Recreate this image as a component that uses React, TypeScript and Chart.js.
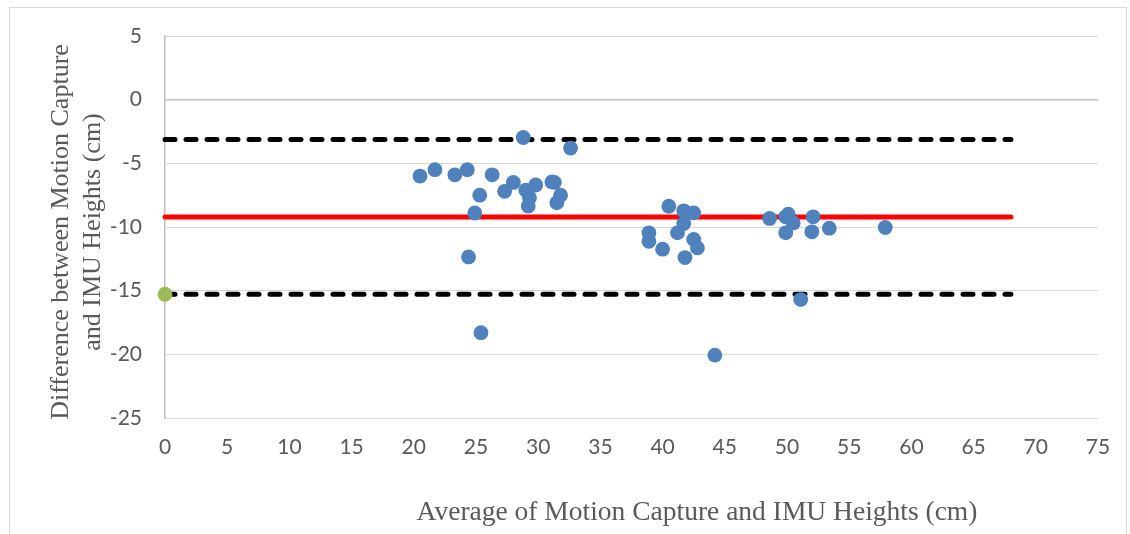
import React, { useEffect, useRef } from 'react';
import { Chart, registerables } from 'chart.js';

Chart.register(...registerables);

// Bland-Altman data: average (x) and difference (y)
const avgHeights = [
  20.5, 21.7, 23.3, 24.3, 26.3, 28.0, 27.3, 25.3, 24.9, 24.4, 25.4,
  28.8, 32.6, 29.0, 29.8, 29.3, 29.2, 31.1, 31.3, 31.8, 31.5,
  40.5, 41.7, 42.5, 41.7, 41.2, 38.9, 38.9, 40.0, 42.5, 42.8, 41.8, 44.2,
  48.6, 50.1, 49.9, 50.5, 49.9, 52.1, 52.0, 53.4, 57.9, 51.1,
];
const diffHeights = [
  -6.0, -5.5, -5.9, -5.5, -5.9, -6.5, -7.2, -7.5, -8.9, -12.35, -18.3,
  -2.97, -3.8, -7.1, -6.7, -7.7, -8.35, -6.46, -6.5, -7.5, -8.1,
  -8.37, -8.73, -8.89, -9.73, -10.46, -10.46, -11.12, -11.74, -10.98, -11.64, -12.4, -20.07,
  -9.33, -9.0, -9.2, -9.68, -10.46, -9.2, -10.38, -10.09, -10.04, -15.7,
];

const meanDiff = -9.21;
const upperLoA = -3.13;
const lowerLoA = -15.28;
const lineXs = [0, 68];

const markerX = [0];
const markerY = [-15.28];

const xMin = 0;
const xMax = 75;
const xStep = 5;
const yMin = -25;
const yMax = 5;
const yStep = 5;

const xTitle = 'Average of Motion Capture and IMU Heights (cm)';
const yTitle = ['Difference between Motion Capture', 'and IMU Heights (cm)'];

const tickFont = { family: 'Lato', size: 21 };

const titlesPlugin = {
  id: 'manualTitles',
  beforeDraw(chart: any) {
    const ctx = chart.ctx;
    ctx.save();
    ctx.strokeStyle = '#D9D9D9';
    ctx.lineWidth = 1;
    ctx.strokeRect(9.5, 7.5, 1117, 600);
    ctx.restore();
  },
  afterDraw(chart: any) {
    const ctx = chart.ctx;
    ctx.save();
    ctx.fillStyle = '#595959';
    ctx.textAlign = 'center';
    ctx.textBaseline = 'alphabetic';
    ctx.font = '27.5px "Liberation Serif"';
    ctx.fillText(xTitle, 697, 520);
    ctx.font = '26px "Liberation Serif"';
    ctx.translate(0, 232);
    ctx.rotate(-Math.PI / 2);
    ctx.fillText(yTitle[0], 0, 68);
    ctx.fillText(yTitle[1], 0, 100);
    ctx.restore();
  },
};

export default function App() {
  const canvasRef = useRef<HTMLCanvasElement | null>(null);

  useEffect(() => {
    const canvas = canvasRef.current;
    if (!canvas) return;
    const points = avgHeights.map((x, i) => ({ x, y: diffHeights[i] }));
    const mkLine = (y: number) => lineXs.map((x) => ({ x, y }));
    const chart = new Chart(canvas, {
      type: 'scatter',
      data: {
        datasets: [
          {
            label: 'Differences',
            data: points,
            backgroundColor: '#4F81BD',
            borderColor: '#4F81BD',
            pointRadius: 7.4,
            borderWidth: 0,
            showLine: false,
            clip: false,
          },
          {
            label: 'Marker',
            data: markerX.map((x, i) => ({ x, y: markerY[i] })),
            backgroundColor: '#9BBB59',
            borderColor: '#9BBB59',
            pointRadius: 7.4,
            borderWidth: 0,
            showLine: false,
            clip: false,
          },
          {
            label: 'Mean',
            data: mkLine(meanDiff),
            showLine: true,
            borderColor: '#FF0000',
            borderWidth: 5,
            borderCapStyle: 'round',
            pointRadius: 0,
            clip: false,
          },
          {
            label: 'Upper LoA',
            data: mkLine(upperLoA),
            showLine: true,
            borderColor: '#000000',
            borderWidth: 5,
            borderDash: [10, 11],
            borderCapStyle: 'round',
            pointRadius: 0,
            clip: false,
          },
          {
            label: 'Lower LoA',
            data: mkLine(lowerLoA),
            showLine: true,
            borderColor: '#000000',
            borderWidth: 5,
            borderDash: [10, 11],
            borderCapStyle: 'round',
            pointRadius: 0,
            clip: false,
          },
        ] as any,
      },
      options: {
        animation: false,
        responsive: true,
        maintainAspectRatio: false,
        layout: { padding: { top: 36, right: 32, left: 0, bottom: 0 } },
        plugins: {
          legend: { display: false },
          tooltip: { enabled: false },
        },
        scales: {
          x: {
            type: 'linear',
            min: xMin,
            max: xMax,
            afterFit: (scale: any) => {
              scale.height = 116;
            },
            ticks: {
              stepSize: xStep,
              color: '#595959',
              font: tickFont,
              padding: 17,
              maxRotation: 0,
            },
            grid: { display: false, drawTicks: false },
            border: { display: false },
          },
          y: {
            type: 'linear',
            min: yMin,
            max: yMax,
            afterFit: (scale: any) => {
              scale.width = 165;
            },
            ticks: {
              stepSize: yStep,
              color: '#595959',
              font: tickFont,
              padding: 23,
            },
            grid: {
              drawTicks: false,
              color: (c: any) => (c.tick && c.tick.value === 0 ? '#BFBFBF' : '#D9D9D9'),
              lineWidth: (c: any) => (c.tick && c.tick.value === 0 ? 1.5 : 1),
            },
            border: { display: true, color: '#BFBFBF', width: 1.5 },
          },
        },
      } as any,
      plugins: [titlesPlugin],
    });
    return () => chart.destroy();
  }, []);

  return (
    <div style={{ position: 'absolute', left: 0, top: 0, width: 1130, height: 534, background: '#FFFFFF' }}>
      <canvas ref={canvasRef} />
    </div>
  );
}
